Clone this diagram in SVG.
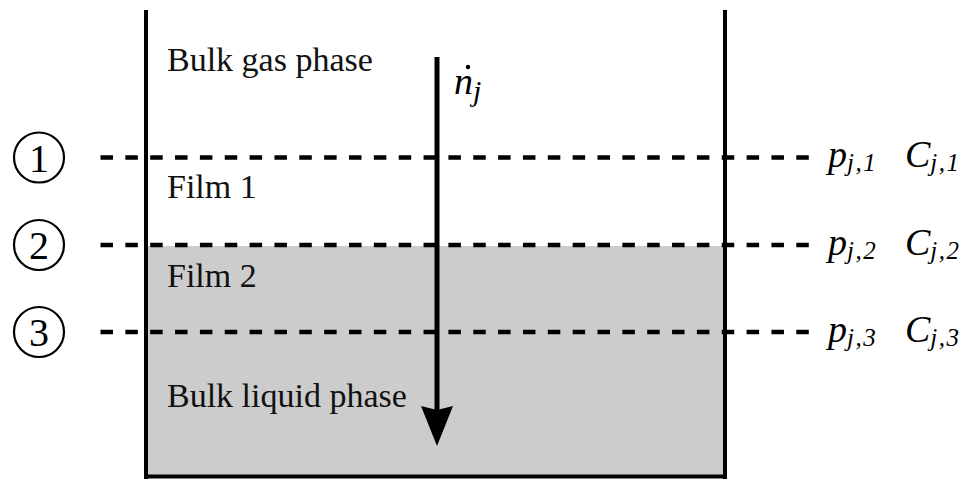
<svg xmlns="http://www.w3.org/2000/svg" width="967" height="479" viewBox="0 0 967 479">
<defs>
<style>
.wall{stroke:#000;stroke-width:4;fill:none}
.dash{stroke:#000;stroke-width:4.5;stroke-dasharray:12.5 12.35;fill:none}
text{font-family:'Liberation Serif','Times New Roman',serif}
.lbl{font-size:34px;fill:#111}
.num{font-size:40px;fill:#000;text-anchor:middle}
.var{font-style:italic;font-size:38px;fill:#000}
.sub{font-size:25px;letter-spacing:1.5px}
.circ{stroke:#000;stroke-width:2.2;fill:#fff}
</style>
<marker id="ah" markerUnits="userSpaceOnUse" markerWidth="44" markerHeight="34" refX="16" refY="17" orient="auto" viewBox="0 0 44 34">
<path d="M2,1 L42,17 L2,33 L6,17 Z" fill="#000"/>
</marker>
</defs>
<rect x="147" y="246" width="578" height="230" fill="#cccccc"/>
<g id="vessel">
<line class="wall" x1="146" y1="10" x2="146" y2="479"/>
<line class="wall" x1="725" y1="10" x2="725" y2="479"/>
<line class="wall" x1="144" y1="476.5" x2="727" y2="476.5" stroke-width="3"/>
</g>
<g id="connectors">
<line class="dash" x1="100.5" y1="157.5" x2="815" y2="157.5"/>
<line class="dash" x1="100.5" y1="245" x2="815" y2="245"/>
<line class="dash" x1="100.5" y1="332" x2="815" y2="332"/>
<line x1="437" y1="57" x2="437" y2="420" stroke="#000" stroke-width="5" marker-end="url(#ah)"/>
</g>
<g id="node-1"><circle class="circ" cx="39" cy="157.5" r="25"/><text class="num" x="39" y="172">1</text></g>
<g id="node-2"><circle class="circ" cx="39" cy="245" r="25"/><text class="num" x="39" y="259">2</text></g>
<g id="node-3"><circle class="circ" cx="39" cy="332" r="25"/><text class="num" x="39" y="346">3</text></g>
<g id="labels">
<text class="lbl" x="167" y="71">Bulk gas phase</text>
<text class="lbl" x="167" y="198">Film 1</text>
<text class="lbl" x="167" y="287">Film 2</text>
<text class="lbl" x="167" y="407">Bulk liquid phase</text>
<text class="var" x="454" y="94" font-size="38">n<tspan font-size="30" dy="7">j</tspan></text>
<circle cx="468" cy="67" r="2.2" fill="#000"/>
</g>
<g id="values-1"><text class="var" x="828" y="167">p<tspan class="sub" dy="4">j,1</tspan></text><text class="var" x="905" y="167">C<tspan class="sub" dy="4">j,1</tspan></text></g>
<g id="values-2"><text class="var" x="828" y="255">p<tspan class="sub" dy="4">j,2</tspan></text><text class="var" x="905" y="255">C<tspan class="sub" dy="4">j,2</tspan></text></g>
<g id="values-3"><text class="var" x="828" y="342">p<tspan class="sub" dy="4">j,3</tspan></text><text class="var" x="905" y="342">C<tspan class="sub" dy="4">j,3</tspan></text></g>
</svg>
